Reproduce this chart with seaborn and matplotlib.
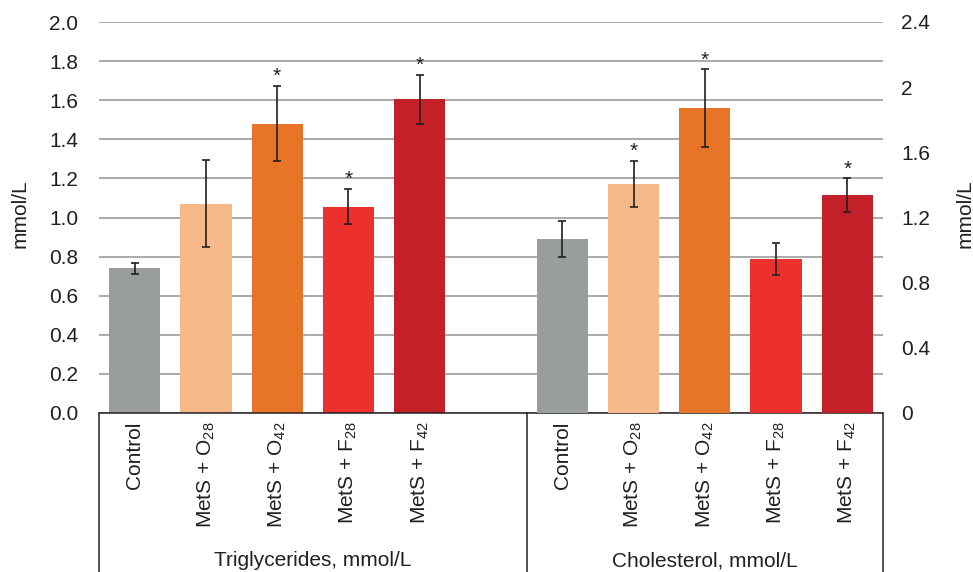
import matplotlib
matplotlib.use("Agg")
import matplotlib.pyplot as plt
import matplotlib.transforms as mtransforms
import numpy as np
import pandas as pd
import seaborn as sns

# ---------------- data ----------------
groups = ["Control", "MetS + O28", "MetS + O42", "MetS + F28", "MetS + F42"]
group_labels = ["Control",
                r"MetS + O$_{\mathregular{28}}$",
                r"MetS + O$_{\mathregular{42}}$",
                r"MetS + F$_{\mathregular{28}}$",
                r"MetS + F$_{\mathregular{42}}$"]
tg_mean = [0.74, 1.07, 1.48, 1.055, 1.605]
tg_err = [0.027, 0.222, 0.193, 0.09, 0.126]
tg_sig = [False, False, True, True, True]
ch_mean = [1.068, 1.406, 1.872, 0.945, 1.338]
ch_err = [0.113, 0.141, 0.237, 0.10, 0.102]
ch_sig = [False, True, True, False, True]
panel_titles = ["Triglycerides, mmol/L", "Cholesterol, mmol/L"]
y_label = "mmol/L"
left_ticks = [0.0, 0.2, 0.4, 0.6, 0.8, 1.0, 1.2, 1.4, 1.6, 1.8, 2.0]
right_ticks = [0, 0.4, 0.8, 1.2, 1.6, 2, 2.4]
right_tick_labels = ["0", "0.4", "0.8", "1.2", "1.6", "2", "2.4"]

colors = ["#9a9d9d", "#f8b98a", "#e77427", "#ec302d", "#c32027"]

# ---------------- build tables ----------------
tg_keys = ["TG|" + g for g in groups]
ch_keys = ["CH|" + g for g in groups]
order = tg_keys + ["gap"] + ch_keys

df_tg = pd.DataFrame({"slot": tg_keys, "group": groups, "value": tg_mean})
df_ch = pd.DataFrame({"slot": ch_keys, "group": groups, "value": ch_mean})

sns.set_style("white")
plt.rcParams["font.family"] = ["Liberation Sans", "DejaVu Sans"]
plt.rcParams["mathtext.fontset"] = "custom"
plt.rcParams["mathtext.rm"] = "Liberation Sans"
txt = "#231f20"

W, H = 973, 572
fig = plt.figure(figsize=(W / 100, H / 100), dpi=100)
ax_l, ax_r, ax_b, ax_t = 99, 883, 413, 22
ax = fig.add_axes([ax_l / W, 1 - ax_b / H, (ax_r - ax_l) / W, (ax_b - ax_t) / H])
ax2 = ax.twinx()

pal = dict(zip(groups, colors))
sns.barplot(data=df_tg, x="slot", y="value", hue="group", hue_order=groups,
            palette=pal, order=order, dodge=False, width=0.72, saturation=1,
            errorbar=None, legend=False, linewidth=0, ax=ax)
sns.barplot(data=df_ch, x="slot", y="value", hue="group", hue_order=groups,
            palette=pal, order=order, dodge=False, width=0.72, saturation=1,
            errorbar=None, legend=False, linewidth=0, ax=ax2)

pos_tg = [order.index(k) for k in tg_keys]
pos_ch = [order.index(k) for k in ch_keys]

for a, pos, m, e, sig in [(ax, pos_tg, tg_mean, tg_err, tg_sig),
                          (ax2, pos_ch, ch_mean, ch_err, ch_sig)]:
    a.errorbar(pos, m, yerr=e, fmt="none", ecolor="#231f20", elinewidth=1.2,
               capsize=2.6, capthick=1.2, zorder=5)
    for p, mm, ee, s in zip(pos, m, e, sig):
        if s:
            a.annotate("*", xy=(p, mm + ee), xytext=(0, 0), textcoords="offset points",
                       ha="center", va="bottom", fontsize=15, color=txt)

# axes limits / ticks
ax.set_xlim(-0.5, len(order) - 0.5)
ax.set_ylim(0, 2.0)
ax2.set_ylim(0, 2.4)
ax.set_yticks(left_ticks)
ax.set_yticklabels([f"{t:.1f}" for t in left_ticks])
ax2.set_yticks(right_ticks)
ax2.set_yticklabels(right_tick_labels)
ax.tick_params(axis="y", length=0, pad=15, labelsize=15, labelcolor=txt)
ax2.tick_params(axis="y", length=0, pad=13, labelsize=15, labelcolor=txt)

ax.set_xticks(pos_tg + pos_ch)
ax.set_xticklabels(group_labels + group_labels, rotation=90, fontsize=15,
                   color=txt, va="top", ha="center")
ax.tick_params(axis="x", length=0, pad=6)

ax.set_xlabel("")
ax2.set_xlabel("")
ax.set_ylabel("")
ax2.set_ylabel("")
yc = 1 - 214 / H
fig.text(20 / W, yc, y_label, rotation=90, ha="center", va="center",
         fontsize=15, color=txt)
fig.text(965 / W, yc, y_label, rotation=90, ha="center", va="center",
         fontsize=15, color=txt)

# grid
ax.yaxis.grid(True, color="#9c9c9c", linewidth=1.2)
ax.xaxis.grid(False)
ax2.grid(False)
ax.set_axisbelow(True)

for a in (ax, ax2):
    for s in ["top", "left", "right", "bottom"]:
        a.spines[s].set_visible(False)

# category box lines below the plot
trans = mtransforms.blended_transform_factory(ax.transData, ax.transAxes)
ax.plot([-0.5, len(order) - 0.5], [0, 0], transform=trans, color="#231f20",
        lw=1.1, clip_on=False, zorder=6)
for xb in [-0.5, 5.5, len(order) - 0.5]:
    ax.plot([xb, xb], [0, -0.5], transform=trans, color="#231f20", lw=1.1,
            clip_on=False)

# group labels
centers = [(-0.5 + 5.5) / 2, (5.5 + len(order) - 0.5) / 2]
for c, t in zip(centers, panel_titles):
    ax.text(c, -(561 - ax_b) / (ax_b - ax_t), t, transform=trans, ha="center",
            va="center", fontsize=15, color=txt)

fig.savefig("out.png", dpi=100)
